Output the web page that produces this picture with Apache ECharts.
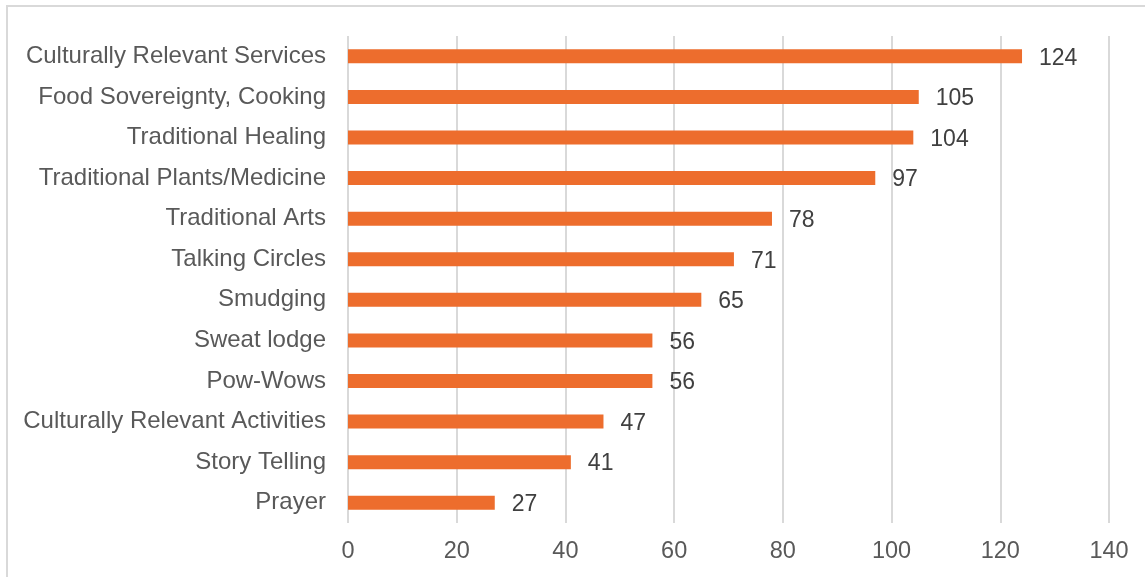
<!DOCTYPE html>
<html>
<head>
<meta charset="utf-8">
<script src="https://cdn.jsdelivr.net/npm/echarts@6/dist/echarts.min.js"></script>
<style>
  html, body { margin: 0; padding: 0; background: #fff; }
  #frame { position: absolute; left: 6px; top: 5px; width: 1160px; height: 600px; border: 2px solid #d9d9d9; box-sizing: border-box; }
  #chart { position: absolute; left: 0; top: 0; width: 1145px; height: 577px; }
</style>
</head>
<body>
<div id="frame"></div>
<div id="chart"></div>
<script>
// Categories listed bottom-to-top (category axis draws first item at the bottom)
const categories = [
  'Prayer',
  'Story Telling',
  'Culturally Relevant Activities',
  'Pow-Wows',
  'Sweat lodge',
  'Smudging',
  'Talking Circles',
  'Traditional Arts',
  'Traditional Plants/Medicine',
  'Traditional Healing',
  'Food Sovereignty, Cooking',
  'Culturally Relevant Services'
];
const counts = [27, 41, 47, 56, 56, 65, 71, 78, 97, 104, 105, 124];
const xMin = 0, xMax = 140, xStep = 20;

const chart = echarts.init(document.getElementById('chart'), null, { renderer: 'canvas' });
chart.setOption({
  animation: false,
  backgroundColor: 'transparent',
  grid: { left: 348, right: 36, top: 36, bottom: 54, containLabel: false },
  xAxis: {
    type: 'value',
    min: xMin, max: xMax, interval: xStep,
    axisLine: { show: false },
    axisTick: { show: false },
    splitLine: { show: true, lineStyle: { color: '#d9d9d9', width: 2 } },
    axisLabel: { color: '#595959', fontSize: 23.5, fontFamily: 'Liberation Sans, Arial, sans-serif', margin: 17 }
  },
  yAxis: {
    type: 'category',
    data: categories,
    axisLine: { show: false },
    axisTick: { show: false },
    axisLabel: { color: '#595959', fontSize: 24, fontFamily: 'Liberation Sans, Arial, sans-serif', margin: 22 }
  },
  series: [{
    type: 'bar',
    data: counts,
    barWidth: 14,
    itemStyle: { color: '#ED6D2D' },
    label: {
      show: true, position: 'right', distance: 17,
      color: '#404040', fontSize: 23, fontFamily: 'Liberation Sans, Arial, sans-serif',
      offset: [0, 2]
    }
  }]
});
</script>
</body>
</html>
